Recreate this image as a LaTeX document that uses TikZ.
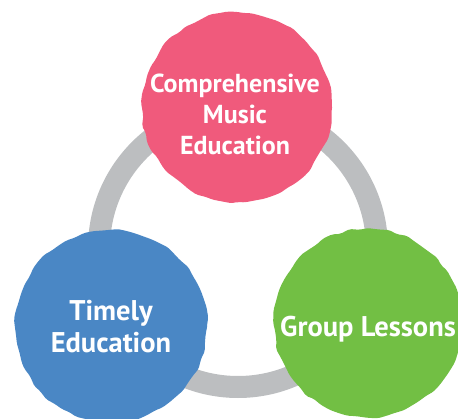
\documentclass[tikz,border=0pt]{standalone}
\usepackage{fontspec}
\setmainfont{PT Sans}
\usetikzlibrary{decorations.pathmorphing}
\definecolor{ringgray}{RGB}{188,190,192}
\definecolor{blobpink}{RGB}{240,90,124}
\definecolor{blobblue}{RGB}{74,135,197}
\definecolor{blobgreen}{RGB}{114,191,68}
\tikzset{
  blob/.style={circle, minimum size=#1, inner sep=0pt,
    decorate, decoration={random steps, segment length=9pt, amplitude=1.3pt},
    rounded corners=2pt},
  blobtext/.style={text=white, align=center, inner sep=0pt,
    font=\bfseries\fontsize{#1}{31}\selectfont},
  ring/.style={draw=ringgray, line width=22pt}
}
\begin{document}
\begin{tikzpicture}[x=1pt,y=-1pt]
\pgfmathsetseed{7}
\useasboundingbox (0,0) rectangle (458,419);
\coordinate (c) at (238,248);
\draw[ring] (c) circle[radius=139pt];
\node[blob=190pt, fill=blobpink] (cme) at (237,107) {};
\node[blob=192pt, fill=blobblue] (te) at (111,326) {};
\node[blob=188pt, fill=blobgreen] (gl) at (368,323) {};
\node[blobtext=26] (cmet) at ([xshift=-2pt,yshift=-7pt]cme.center) {Comprehensive\\Music\\Education};
\node[blobtext=28.5, font=\bfseries\fontsize{28.5}{32}\selectfont] (tet) at ([yshift=-1pt]te.center) {Timely\\Education};
\node[blobtext=28.5] (glt) at ([yshift=-6pt]gl.center) {Group Lessons};
\end{tikzpicture}
\end{document}
